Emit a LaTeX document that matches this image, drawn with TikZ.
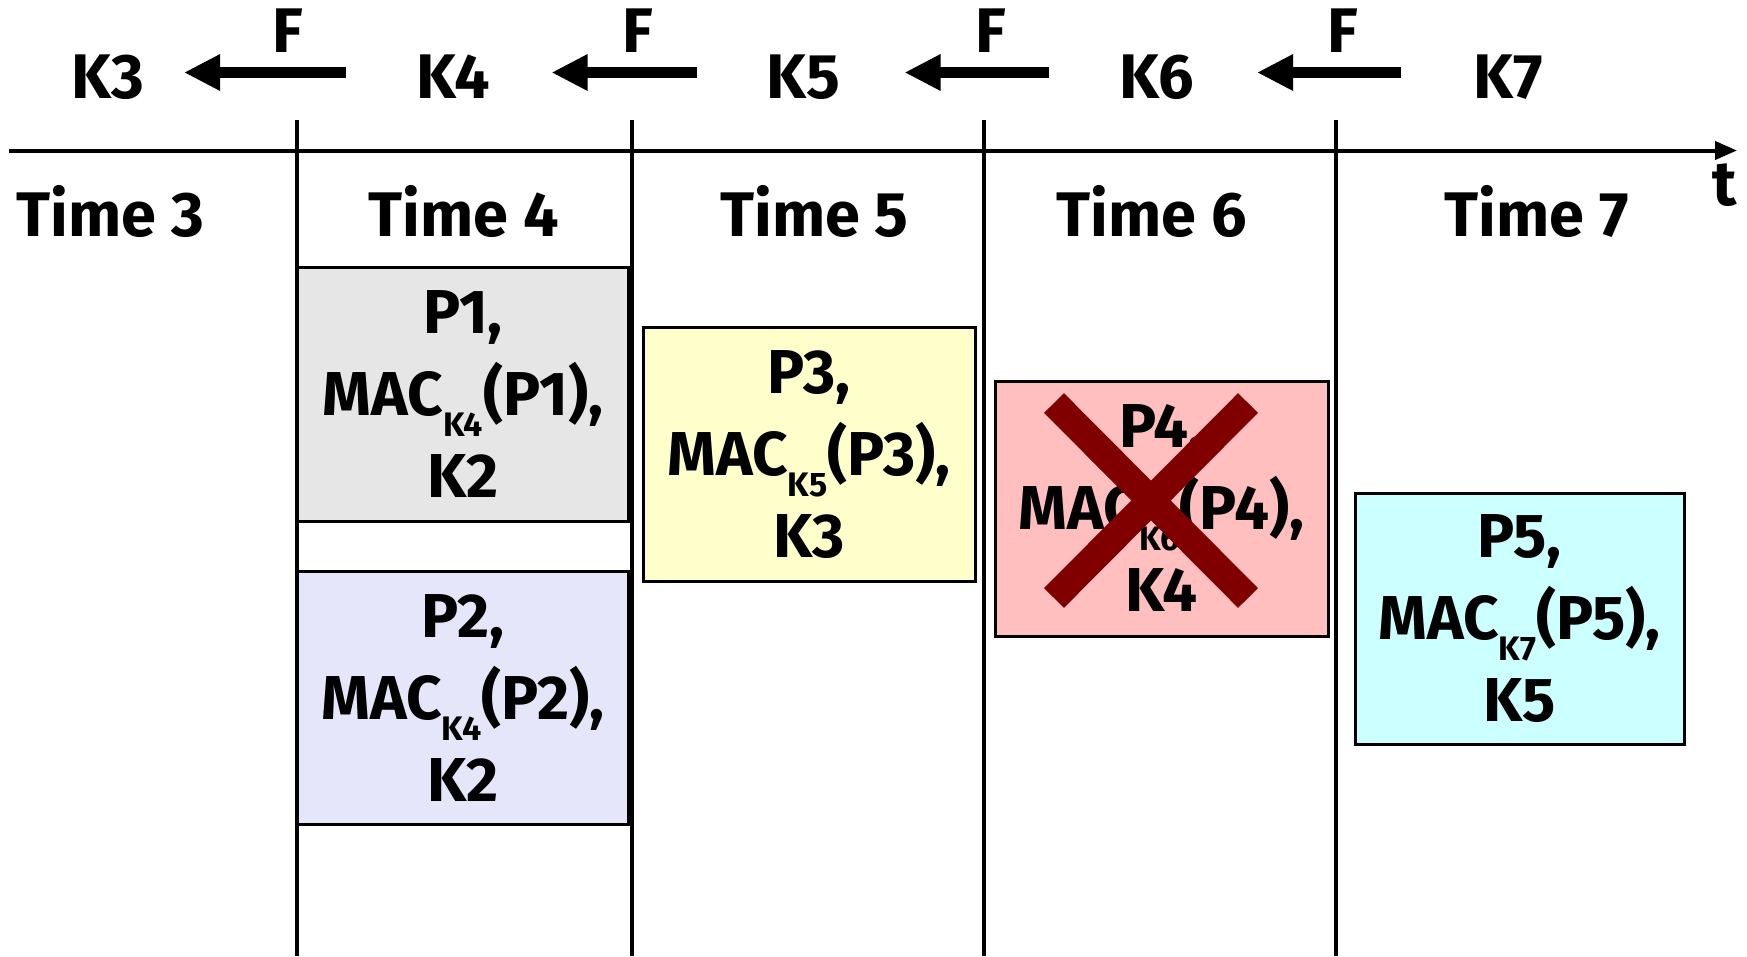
\documentclass[tikz,border=0pt]{standalone}
\usepackage{fontspec}
\setmainfont{Fira Sans}[BoldFont={Fira Sans Bold}]
\usetikzlibrary{arrows.meta}
\definecolor{boxgray}{HTML}{E6E6E6}
\definecolor{boxlav}{HTML}{E6E6FA}
\definecolor{boxyel}{HTML}{FFFFCC}
\definecolor{boxpink}{HTML}{FFBFBF}
\definecolor{boxcyan}{HTML}{CCFFFF}
\definecolor{crossred}{HTML}{800000}
\newcommand{\macsub}[1]{\raisebox{-21pt}{\fontsize{34}{34}\selectfont #1}}
\begin{document}
\begin{tikzpicture}[x=1pt,y=-1pt,
  lbl/.style={font=\bfseries\fontsize{63}{63}\selectfont, inner sep=0pt, anchor=base},
  pkt/.style={draw=black, line width=3pt, font=\bfseries\fontsize{62}{82}\selectfont,
    align=center, inner sep=0pt},
  farrow/.style={line width=11pt, -{Triangle[length=36pt,width=34pt]}},
  sep/.style={line width=4pt},
]
\useasboundingbox (0,0) rectangle (1747,956);

% time axis
\coordinate (ax0) at (9,150.5);
\coordinate (ax1) at (1737,150.5);
\draw[line width=4pt, -{Triangle[length=22pt,width=18pt]}] (ax0) -- (ax1);
\node[lbl] (t) at (1725,205) {t};

% slot boundaries
\foreach \n/\x in {a/296.5,b/632,c/984,d/1336}{
  \coordinate (\n top) at (\x,120);
  \coordinate (\n bot) at (\x,956);
  \draw[sep] (\n top) -- (\n bot);
}

% keys of the one-way chain
\node[lbl] (k3) at (108,98) {K3};
\node[lbl] (k4) at (453.5,98) {K4};
\node[lbl] (k5) at (803.5,98) {K5};
\node[lbl] (k6) at (1156.5,98) {K6};
\node[lbl] (k7) at (1508.5,98) {K7};

% one-way function arrows
\foreach \n/\a/\b/\f in {1/345.5/184/287.5, 2/696.5/551.5/637.5, 3/1048.5/904.5/990.5, 4/1400.5/1257/1342.5}{
  \coordinate (fs\n) at (\a,72.5);
  \coordinate (fe\n) at (\b,72.5);
  \draw[farrow] (fs\n) -- (fe\n);
  \node[lbl] (f\n) at (\f,52) {F};
}

% interval labels
\node[lbl] (t3) at (110.5,236) {Time 3};
\node[lbl] (t4) at (463.5,236) {Time 4};
\node[lbl] (t5) at (814.5,236) {Time 5};
\node[lbl] (t6) at (1152,236) {Time 6};
\node[lbl] (t7) at (1536.5,236) {Time 7};

% packets
\node[pkt, fill=boxgray, minimum width=331pt, minimum height=254pt] (p1) at (463,394.5)
  {P1,\\MAC\macsub{K4}(P1),\\K2};
\node[pkt, fill=boxlav, minimum width=331pt, minimum height=253pt] (p2) at (463,698)
  {P2,\\MAC\macsub{K4}(P2),\\K2};
\node[pkt, fill=boxyel, minimum width=332pt, minimum height=254pt] (p3) at (809,454.5)
  {P3,\\MAC\macsub{K5}(P3),\\K3};
\node[pkt, fill=boxpink, minimum width=333pt, minimum height=255pt] (p4) at (1161.5,508.5)
  {P4,\\MAC\macsub{K6}(P4),\\K4};
\node[pkt, fill=boxcyan, minimum width=329pt, minimum height=251pt] (p5) at (1519.5,619)
  {P5,\\MAC\macsub{K7}(P5),\\K5};

% lost packet
\coordinate (xa) at (1054,403);
\coordinate (xb) at (1248,598);
\coordinate (xc) at (1248,403);
\coordinate (xd) at (1054,598);
\draw[crossred, line width=28pt] (xa) -- (xb);
\draw[crossred, line width=28pt] (xc) -- (xd);
\end{tikzpicture}
\end{document}
